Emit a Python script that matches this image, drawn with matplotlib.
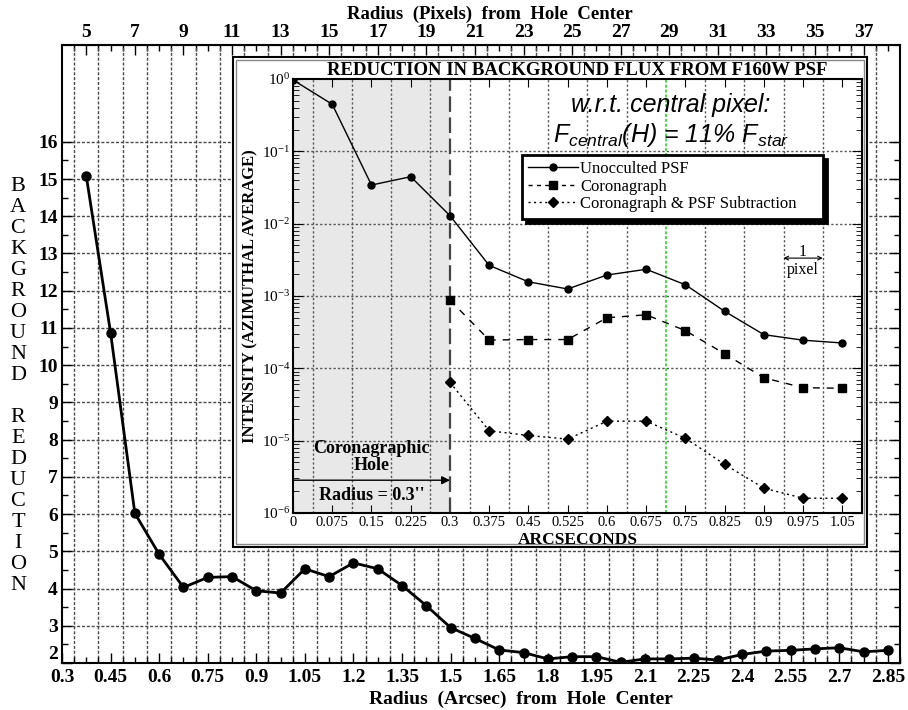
import numpy as np
import matplotlib
matplotlib.use("Agg")
import matplotlib.pyplot as plt
from matplotlib.patches import Rectangle
from matplotlib.lines import Line2D
from matplotlib.ticker import FixedLocator, LogLocator, NullFormatter, FuncFormatter

plt.rcParams['font.family'] = ['Liberation Serif', 'DejaVu Serif']
plt.rcParams['mathtext.default'] = 'regular'

# ---------------- data ----------------
PIX = 0.075  # arcsec per pixel
main_pixels = list(range(5, 39))
main_reduction = [15.08, 10.87, 6.02, 4.92, 4.03, 4.30, 4.32, 3.94, 3.88, 4.53,
                  4.32, 4.69, 4.53, 4.08, 3.54, 2.95, 2.66, 2.35, 2.28, 2.11,
                  2.17, 2.17, 2.02, 2.11, 2.11, 2.13, 2.08, 2.23, 2.32, 2.34,
                  2.38, 2.41, 2.30, 2.34]

inset_x_psf = [0, 0.075, 0.15, 0.225, 0.3, 0.375, 0.45, 0.525, 0.6, 0.675,
               0.75, 0.825, 0.9, 0.975, 1.05]
unocculted = [0.97, 0.447, 0.0342, 0.0446, 0.0129, 0.00265, 0.00157, 0.00125,
              0.00195, 0.00234, 0.00143, 0.000614, 0.000292, 0.000245, 0.000224]
inset_x_cor = [0.3, 0.375, 0.45, 0.525, 0.6, 0.675, 0.75, 0.825, 0.9, 0.975, 1.05]
coronagraph = [0.000877, 0.000246, 0.000250, 0.000250, 0.000500, 0.000550,
               0.000332, 0.000159, 7.4e-5, 5.4e-5, 5.3e-5]
cor_psfsub = [6.4e-5, 1.37e-5, 1.18e-5, 1.05e-5, 1.86e-5, 1.86e-5, 1.08e-5,
              4.7e-6, 2.2e-6, 1.6e-6, 1.6e-6]

main_yticks = list(range(2, 17))
top_ticks = list(range(5, 38, 2))
bottom_ticks = [0.3, 0.45, 0.6, 0.75, 0.9, 1.05, 1.2, 1.35, 1.5, 1.65, 1.8,
                1.95, 2.1, 2.25, 2.4, 2.55, 2.7, 2.85]
inset_xticks = [0, 0.075, 0.15, 0.225, 0.3, 0.375, 0.45, 0.525, 0.6, 0.675,
                0.75, 0.825, 0.9, 0.975, 1.05]
legend_labels = ['Unocculted PSF', 'Coronagraph', 'Coronagraph & PSF Subtraction']

# ---------------- figure ----------------
W, H = 908, 710
fig = plt.figure(figsize=(W / 100, H / 100), dpi=100)

def fx(px):
    return px / W

def fy(py):
    return (H - py) / H

ax = fig.add_axes([fx(62), fy(663), fx(900) - fx(62), fy(45) - fy(663)])
ax.set_zorder(0)
main_x = [p * PIX for p in main_pixels]
ax.plot(main_x, main_reduction, color='black', lw=2, marker='o', ms=6.5, zorder=5)
ax.set_xlim(4 * PIX, 38.5 * PIX)
ax.set_ylim(2, 18.6)

gridkw = dict(color='#4a4a4a', lw=1.0, dashes=(2.2, 1.3), zorder=1)
for p in np.arange(4.5, 38.5, 1.0):
    ax.axvline(p * PIX, **gridkw)
for v in main_yticks:
    ax.axhline(v, **gridkw)

ax.set_xticks(bottom_ticks)
ax.set_xticklabels([f'{t:g}' for t in bottom_ticks])
ax.xaxis.set_minor_locator(FixedLocator(np.arange(0.3, 2.89, 0.0375)))
ax.set_yticks(main_yticks)
ax.yaxis.set_minor_locator(FixedLocator(np.arange(2.5, 16, 1.0)))
ax.tick_params(axis='both', which='both', direction='in', right=True)
ax.tick_params(axis='x', which='major', length=7, width=1, labelsize=14, pad=4.5)
ax.tick_params(axis='x', which='minor', length=4, width=1)
ax.tick_params(axis='y', which='major', length=7, width=1, labelsize=14, pad=3)
ax.tick_params(axis='y', which='minor', length=4, width=1)
for lab in ax.get_xticklabels() + ax.get_yticklabels():
    lab.set_fontweight('bold')
ax.yaxis.get_major_ticks()[0].label1.set_verticalalignment('bottom')
for s in ax.spines.values():
    s.set_linewidth(1.5)

sec = ax.secondary_xaxis('top', functions=(lambda a: a / PIX, lambda p: p * PIX))
sec.set_xticks(top_ticks)
sec.set_xticklabels([str(t) for t in top_ticks])
sec.xaxis.set_minor_locator(FixedLocator(np.arange(4.5, 38.5, 0.5)))
sec.tick_params(axis='x', which='major', direction='in', length=7, width=1, labelsize=14, pad=3)
sec.tick_params(axis='x', which='minor', direction='in', length=4, width=1)
for lab in sec.get_xticklabels():
    lab.set_fontweight('bold')

fig.text(fx(490), fy(14), 'Radius  (Pixels)  from  Hole  Center', ha='center', va='center',
         fontsize=13.5, fontweight='bold')
fig.text(fx(521), fy(699), 'Radius  (Arcsec)  from  Hole  Center', ha='center', va='center',
         fontsize=14, fontweight='bold')
stack = '\n'.join(list('BACKGROUND') + [''] + list('REDUCTION'))
fig.text(fx(18), fy(386), stack, ha='center', va='center', fontsize=16,
         linespacing=1.14, multialignment='center')

# ---------------- inset box ----------------
box = Rectangle((fx(233), fy(547)), fx(867) - fx(233), fy(57) - fy(547),
                transform=fig.transFigure, facecolor='white', edgecolor='black',
                lw=1.5, zorder=1)
fig.patches.append(box)
box2 = Rectangle((fx(236), fy(544)), fx(864) - fx(236), fy(60) - fy(544),
                 transform=fig.transFigure, facecolor='none', edgecolor='#888888',
                 lw=1.0, zorder=1.1)
fig.patches.append(box2)

ins = fig.add_axes([fx(293), fy(513), fx(862) - fx(293), fy(79) - fy(513)])
ins.set_zorder(2)
ins.set_yscale('log')
ins.set_xlim(0, 1.0875)
ins.set_ylim(1e-6, 1)
ins.axvspan(0, 0.3, color='#e8e8e8', zorder=0, lw=0)

igrid = dict(color='#555555', lw=1.0, dashes=(1.6, 1.6), zorder=1)
for k in range(14):
    xg = 0.0375 + k * 0.075
    if abs(xg - 0.7125) < 1e-6:
        ins.axvline(xg, color='#22cc22', lw=1.1, dashes=(2, 1.2), zorder=1.5)
    else:
        ins.axvline(xg, **igrid)
for e in range(-5, 0):
    ins.axhline(10.0 ** e, **igrid)
ins.axvline(0.3, color='#444444', lw=1.6, dashes=(7, 2.5), zorder=2)

ins.plot(inset_x_psf, unocculted, color='black', lw=1, marker='o', ms=5, zorder=4)
ins.plot(inset_x_cor, coronagraph, color='black', lw=1, dashes=(5, 5), marker='s',
         ms=5.5, zorder=4)
ins.plot(inset_x_cor, cor_psfsub, color='black', lw=1, dashes=(1.5, 2.5), marker='D',
         ms=5.5, zorder=4)

ins.set_xticks(inset_xticks)
ins.set_xticklabels([f'{t:g}' for t in inset_xticks])
ins.yaxis.set_major_locator(LogLocator(base=10, numticks=10))
ins.yaxis.set_minor_locator(LogLocator(base=10, subs=np.arange(2, 10), numticks=10))
ins.yaxis.set_minor_formatter(NullFormatter())
ins.yaxis.set_major_formatter(FuncFormatter(lambda v, p: r'$10^{%d}$' % round(np.log10(v))))
ins.tick_params(axis='both', which='both', direction='in', top=True, right=True)
ins.tick_params(axis='x', which='major', length=6, labelsize=10.5, pad=2)
ins.tick_params(axis='y', which='major', length=7, labelsize=11, pad=2)
ins.tick_params(axis='y', which='minor', length=4)
for s in ins.spines.values():
    s.set_linewidth(1.5)

ins.set_xlabel('ARCSECONDS', fontsize=12.5, fontweight='bold', labelpad=2)
ins.set_ylabel('INTENSITY (AZIMUTHAL AVERAGE)', fontsize=12, fontweight='bold', labelpad=2)
ins.set_title('REDUCTION IN BACKGROUND FLUX FROM F160W PSF', fontsize=13.5,
              fontweight='bold', pad=3)

sans = ['Liberation Sans', 'DejaVu Sans']
ins.text(0.664, 0.940, 'w.r.t. central pixel:', transform=ins.transAxes, ha='center',
         va='center', fontsize=18, style='italic', family=sans)
ins.text(0.664, 0.872, r'$F_{central}$(H) = 11% $F_{star}$', transform=ins.transAxes,
         ha='center', va='center', fontsize=18, style='italic', family=sans)

handles = [Line2D([], [], color='black', lw=1, marker='o', ms=5),
           Line2D([], [], color='black', lw=1, dashes=(3, 3), marker='s', ms=5.5),
           Line2D([], [], color='black', lw=1, dashes=(1.5, 2.5), marker='D', ms=5.5)]
leg = ins.legend(handles, legend_labels, loc='upper left',
                 bbox_to_anchor=(0.402, 0.680, 0.529, 0.146), mode='expand',
                 fontsize=12, frameon=True, fancybox=False, numpoints=1,
                 handlelength=3.0, handletextpad=0.1, labelspacing=0.08,
                 borderpad=0.4, borderaxespad=0,
                 shadow={'color': 'black', 'alpha': 1, 'ox': 3, 'oy': -3})
leg.get_frame().set_edgecolor('black')
leg.get_frame().set_linewidth(2)
leg.set_zorder(10)

# annotations
ins.annotate('', xy=(1.0125, 0.00334), xytext=(0.9375, 0.00334),
             arrowprops=dict(arrowstyle='<->', lw=0.8, color='black',
                             shrinkA=0, shrinkB=0, mutation_scale=7))
ins.text(0.975, 0.0041, '1', ha='center', va='center', fontsize=11.5)
ins.text(0.975, 0.0023, 'pixel', ha='center', va='center', fontsize=11.5)
ins.text(0.15, 7.9e-6, 'Coronagraphic', ha='center', va='center', fontsize=13,
         fontweight='bold')
ins.text(0.15, 4.5e-6, 'Hole', ha='center', va='center', fontsize=13, fontweight='bold')
ins.annotate('', xy=(0.3, 2.84e-6), xytext=(0.0, 2.84e-6),
             arrowprops=dict(arrowstyle='-|>', lw=1, color='black',
                             shrinkA=0, shrinkB=0, mutation_scale=12))
ins.text(0.15, 1.72e-6, "Radius = 0.3''", ha='center', va='center', fontsize=13,
         fontweight='bold')

fig.savefig('out.png', dpi=100)
